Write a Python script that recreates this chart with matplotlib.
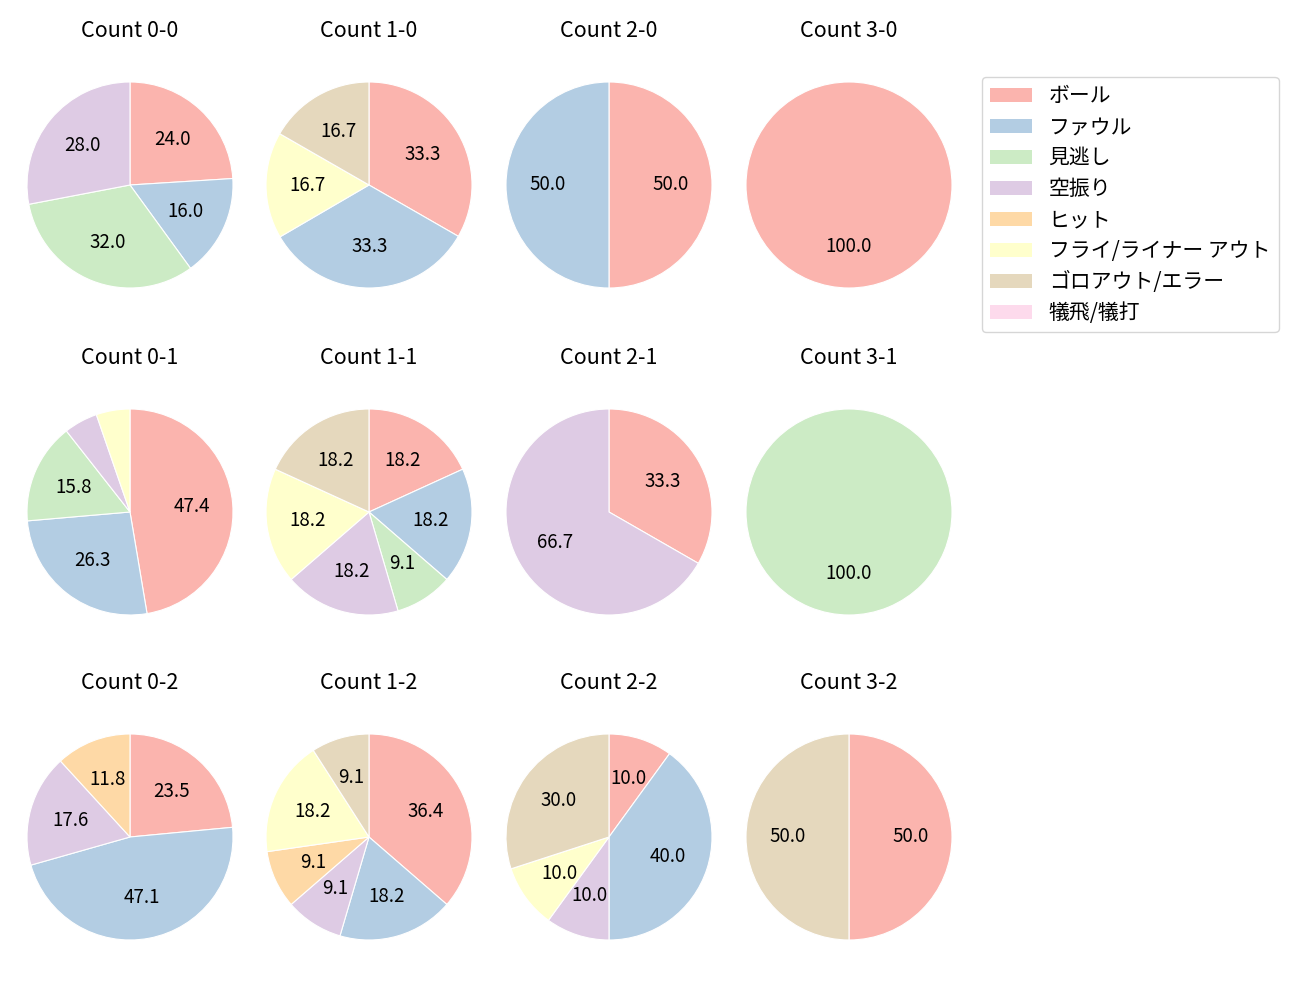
import matplotlib
matplotlib.use('Agg')
import matplotlib.pyplot as plt
from matplotlib.patches import Patch

plt.rcParams['font.family'] = ['Noto Sans CJK JP', 'DejaVu Sans']
plt.rcParams['font.size'] = 12

# カテゴリと色 (Pastel1)
categories = ['ボール', 'ファウル', '見逃し', '空振り', 'ヒット',
              'フライ/ライナー アウト', 'ゴロアウト/エラー', '犠飛/犠打']
colors = ['#fbb4ae', '#b3cde3', '#ccebc5', '#decbe4', '#fed9a6',
          '#ffffcc', '#e5d8bd', '#fddaec']

# 各カウントの割合 (%), categories の順
count_0_0 = [24.0, 16.0, 32.0, 28.0, 0, 0, 0, 0]
count_1_0 = [33.3, 33.3, 0, 0, 0, 16.7, 16.7, 0]
count_2_0 = [50.0, 50.0, 0, 0, 0, 0, 0, 0]
count_3_0 = [100.0, 0, 0, 0, 0, 0, 0, 0]
count_0_1 = [47.4, 26.3, 15.8, 5.3, 0, 5.3, 0, 0]
count_1_1 = [18.2, 18.2, 9.1, 18.2, 0, 18.2, 18.2, 0]
count_2_1 = [33.3, 0, 0, 66.7, 0, 0, 0, 0]
count_3_1 = [0, 0, 100.0, 0, 0, 0, 0, 0]
count_0_2 = [23.5, 47.1, 0, 17.6, 11.8, 0, 0, 0]
count_1_2 = [36.4, 18.2, 0, 9.1, 9.1, 18.2, 9.1, 0]
count_2_2 = [10.0, 40.0, 0, 10.0, 0, 10.0, 30.0, 0]
count_3_2 = [50.0, 0, 0, 0, 0, 0, 50.0, 0]

grid = [
    [('Count 0-0', count_0_0), ('Count 1-0', count_1_0), ('Count 2-0', count_2_0), ('Count 3-0', count_3_0)],
    [('Count 0-1', count_0_1), ('Count 1-1', count_1_1), ('Count 2-1', count_2_1), ('Count 3-1', count_3_1)],
    [('Count 0-2', count_0_2), ('Count 1-2', count_1_2), ('Count 2-2', count_2_2), ('Count 3-2', count_3_2)],
]

W, H = 1300, 1000
fig = plt.figure(figsize=(13, 10), dpi=100)

col_centers = [130, 369, 609, 849]  # px
row_centers = [185, 512, 837]       # px
radius_px = 103
size = 2.5 * radius_px

for r, row in enumerate(grid):
    for c, (title, vals) in enumerate(row):
        cx, cy = col_centers[c], row_centers[r]
        ax = fig.add_axes([(cx - size / 2) / W, 1 - (cy + size / 2) / H, size / W, size / H])
        v = [x for x in vals if x > 0]
        col = [colors[i] for i, x in enumerate(vals) if x > 0]
        ax.pie(v, colors=col, startangle=90, counterclock=False,
               autopct=lambda p: f'{p:.1f}' if p >= 7 else '',
               wedgeprops={'edgecolor': 'white', 'linewidth': 0.8},
               textprops={'fontsize': 13.5})
        ax.set_title(title, pad=14, fontsize=15.5)

handles = [Patch(facecolor=colors[i], label=categories[i]) for i in range(len(categories))]
fig.legend(handles=handles, loc='upper left', bbox_to_anchor=(982 / W, 1 - 77 / H),
           fontsize=15, labelspacing=0.43, borderaxespad=0)

fig.savefig('out.png', dpi=100)
